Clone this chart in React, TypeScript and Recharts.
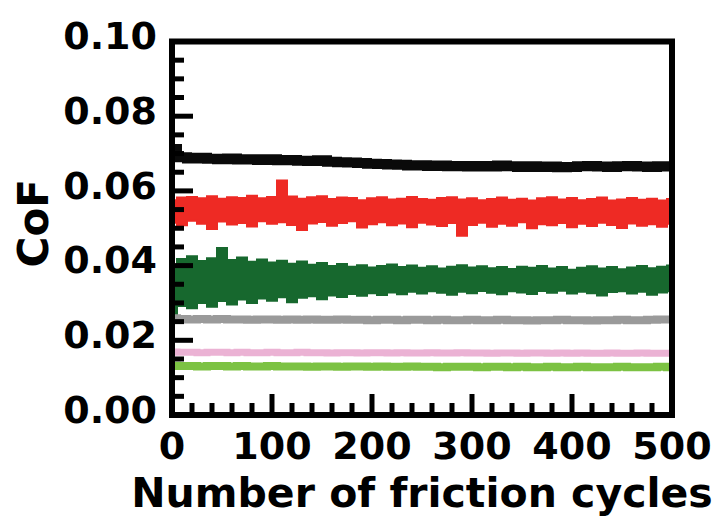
import { ComposedChart, Area, Line, XAxis, YAxis, ReferenceArea, Label } from 'recharts';

const cycles = [
  0, 10, 20, 30, 40, 50, 60, 70, 80, 90,
  100, 110, 120, 130, 140, 150, 160, 170, 180, 190,
  200, 210, 220, 230, 240, 250, 260, 270, 280, 290,
  300, 310, 320, 330, 340, 350, 360, 370, 380, 390,
  400, 410, 420, 430, 440, 450, 460, 470, 480, 490,
  500,
];

const black = [
  0.0712, 0.0690, 0.0687, 0.0689, 0.0686, 0.0685, 0.0687, 0.0684, 0.0685, 0.0683,
  0.0685, 0.0682, 0.0683, 0.0681, 0.0680, 0.0682, 0.0678, 0.0677, 0.0676, 0.0675,
  0.0673, 0.0672, 0.0671, 0.0670, 0.0668, 0.0669, 0.0667, 0.0668, 0.0666, 0.0667,
  0.0665, 0.0667, 0.0665, 0.0668, 0.0666, 0.0664, 0.0666, 0.0664, 0.0665, 0.0663,
  0.0664, 0.0666, 0.0667, 0.0665, 0.0664, 0.0666, 0.0667, 0.0665, 0.0664, 0.0666,
  0.0665,
];

const redHigh = [
  0.0575, 0.0582, 0.0584, 0.0580, 0.0586, 0.0579, 0.0583, 0.0581, 0.0587, 0.0580,
  0.0584, 0.0628, 0.0585, 0.0579, 0.0583, 0.0586, 0.0578, 0.0582, 0.0581, 0.0575,
  0.0580, 0.0583, 0.0577, 0.0579, 0.0584, 0.0578, 0.0576, 0.0581, 0.0583, 0.0577,
  0.0580, 0.0575, 0.0578, 0.0582, 0.0576, 0.0579, 0.0574, 0.0580, 0.0583, 0.0577,
  0.0581, 0.0575, 0.0578, 0.0582, 0.0574, 0.0577, 0.0581, 0.0576, 0.0579, 0.0574,
  0.0578,
];

const redLow = [
  0.0515, 0.0508, 0.0520, 0.0512, 0.0498, 0.0518, 0.0510, 0.0514, 0.0505, 0.0519,
  0.0512, 0.0516, 0.0509, 0.0495, 0.0513, 0.0517, 0.0507, 0.0514, 0.0519, 0.0502,
  0.0511, 0.0516, 0.0508, 0.0513, 0.0503, 0.0515, 0.0510, 0.0506, 0.0514, 0.0480,
  0.0509, 0.0515, 0.0504, 0.0512, 0.0507, 0.0516, 0.0500, 0.0511, 0.0508, 0.0514,
  0.0503, 0.0512, 0.0506, 0.0515, 0.0509, 0.0501, 0.0513, 0.0507, 0.0511, 0.0504,
  0.0512,
];

const greenHigh = [
  0.0400, 0.0418, 0.0425, 0.0412, 0.0420, 0.0447, 0.0415, 0.0422, 0.0410, 0.0416,
  0.0408, 0.0413, 0.0405, 0.0411, 0.0402, 0.0407, 0.0399, 0.0404, 0.0397, 0.0401,
  0.0395, 0.0399, 0.0403, 0.0396, 0.0400, 0.0394, 0.0398, 0.0392, 0.0397, 0.0401,
  0.0395, 0.0398, 0.0393, 0.0396, 0.0391, 0.0397, 0.0394, 0.0399, 0.0392, 0.0396,
  0.0389, 0.0394, 0.0398, 0.0392, 0.0396, 0.0390, 0.0395, 0.0399, 0.0393, 0.0397,
  0.0400,
];

const greenLow = [
  0.0270, 0.0292, 0.0286, 0.0300, 0.0290, 0.0305, 0.0296, 0.0309, 0.0300, 0.0312,
  0.0306, 0.0315, 0.0302, 0.0314, 0.0318, 0.0310, 0.0320, 0.0316, 0.0324, 0.0319,
  0.0326, 0.0321, 0.0328, 0.0323, 0.0330, 0.0325, 0.0331, 0.0327, 0.0322, 0.0330,
  0.0326, 0.0332, 0.0327, 0.0323, 0.0331, 0.0328, 0.0324, 0.0332, 0.0327, 0.0333,
  0.0325, 0.0330, 0.0326, 0.0320, 0.0329, 0.0331, 0.0325, 0.0330, 0.0322, 0.0328,
  0.0331,
];

const gray = [
  0.0259, 0.0257, 0.0256, 0.0257, 0.0256, 0.0257, 0.0256, 0.0256, 0.0255, 0.0256,
  0.0256, 0.0255, 0.0256, 0.0255, 0.0256, 0.0255, 0.0255, 0.0256, 0.0255, 0.0255,
  0.0254, 0.0255, 0.0255, 0.0254, 0.0255, 0.0255, 0.0254, 0.0255, 0.0254, 0.0254,
  0.0255, 0.0254, 0.0254, 0.0255, 0.0254, 0.0254, 0.0253, 0.0254, 0.0254, 0.0255,
  0.0254, 0.0254, 0.0253, 0.0254, 0.0254, 0.0255, 0.0254, 0.0254, 0.0255, 0.0256,
  0.0256,
];

const pink = [
  0.0169, 0.0168, 0.0168, 0.0167, 0.0168, 0.0168, 0.0167, 0.0168, 0.0167, 0.0167,
  0.0168, 0.0167, 0.0167, 0.0168, 0.0167, 0.0167, 0.0166, 0.0167, 0.0167, 0.0166,
  0.0167, 0.0167, 0.0166, 0.0167, 0.0166, 0.0166, 0.0167, 0.0166, 0.0166, 0.0167,
  0.0166, 0.0166, 0.0165, 0.0166, 0.0166, 0.0165, 0.0166, 0.0166, 0.0165, 0.0166,
  0.0165, 0.0166, 0.0165, 0.0165, 0.0166, 0.0165, 0.0165, 0.0166, 0.0165, 0.0165,
  0.0165,
];

const lime = [
  0.0132, 0.0131, 0.0131, 0.0130, 0.0131, 0.0131, 0.0130, 0.0131, 0.0130, 0.0130,
  0.0131, 0.0130, 0.0130, 0.0130, 0.0129, 0.0130, 0.0130, 0.0129, 0.0130, 0.0130,
  0.0129, 0.0130, 0.0129, 0.0129, 0.0130, 0.0129, 0.0129, 0.0128, 0.0129, 0.0129,
  0.0129, 0.0128, 0.0129, 0.0129, 0.0128, 0.0129, 0.0128, 0.0128, 0.0129, 0.0128,
  0.0128, 0.0129, 0.0128, 0.0128, 0.0128, 0.0129, 0.0128, 0.0128, 0.0128, 0.0129,
  0.0128,
];

const xTicks = [
  0, 20, 40, 60, 80, 100, 120, 140, 160, 180, 200, 220, 240,
  260, 280, 300, 320, 340, 360, 380, 400, 420, 440, 460, 480, 500,
];
const xLabels = [0, 100, 200, 300, 400, 500];

const yTicks = [
  0, 0.005, 0.01, 0.015, 0.02, 0.025, 0.03, 0.035, 0.04, 0.045, 0.05,
  0.055, 0.06, 0.065, 0.07, 0.075, 0.08, 0.085, 0.09, 0.095, 0.1,
];
const yLabels = [0, 0.02, 0.04, 0.06, 0.08, 0.1];

const data = cycles.map((c, i) => ({
  cycle: c,
  black: black[i],
  red: [redLow[i], redHigh[i]],
  green: [greenLow[i], greenHigh[i]],
  gray: gray[i],
  pink: pink[i],
  lime: lime[i],
}));

const W = 724;
const H = 518;
const MARGIN = { top: 41.5, right: 52, bottom: 0, left: 0 };
const FONT = '"DejaVu Sans", sans-serif';
const X_GAP = 17;
const Y_GAP = 15;
const MAJOR = 21;
const MINOR = 12;

const isIn = (list: number[], v: number) => list.some((l) => Math.abs(l - v) < 1e-9);

function YTick(props: any) {
  const { x, y, payload } = props;
  const v = payload.value;
  const ax = x + Y_GAP;
  const major = isIn(yLabels, v);
  return (
    <g>
      <line x1={ax} y1={y} x2={ax + (major ? MAJOR : MINOR)} y2={y} stroke="#000" strokeWidth={5} />
      {major && (
        <text x={x} y={y - 6} dy="0.36em" textAnchor="end" fontFamily={FONT} fontWeight="bold" fontSize={38} fill="#000">
          {v.toFixed(2)}
        </text>
      )}
    </g>
  );
}

function XTick(props: any) {
  const { x, y, payload } = props;
  const v = payload.value;
  const ay = y - X_GAP;
  const major = isIn(xLabels, v);
  return (
    <g>
      <line x1={x} y1={ay} x2={x} y2={ay - (major ? MAJOR : MINOR)} stroke="#000" strokeWidth={5} />
      {major && (
        <text x={x} y={y} dy="0.71em" textAnchor="middle" fontFamily={FONT} fontWeight="bold" fontSize={38} fill="#000">
          {v}
        </text>
      )}
    </g>
  );
}

// series chart underneath, axes + frame chart on top so the inward ticks sit over the data
export default function App() {
  return (
    <div style={{ position: 'absolute', left: 0, top: 0, width: W, height: H, background: '#fff' }}>
      <div style={{ position: 'absolute', left: 0, top: 0 }}>
        <ComposedChart width={W} height={H} data={data} margin={MARGIN}>
          <XAxis type="number" dataKey="cycle" domain={[0, 500]} allowDataOverflow ticks={xTicks} tick={false} axisLine={false} tickLine={false} height={103} />
          <YAxis type="number" domain={[0, 0.1]} allowDataOverflow ticks={yTicks} tick={false} axisLine={false} tickLine={false} width={172} />
          <Area dataKey="red" type="step" fill="#ee2a24" fillOpacity={1} stroke="#ee2a24" strokeWidth={2} isAnimationActive={false} />
          <Area dataKey="green" type="step" fill="#17682e" fillOpacity={1} stroke="#17682e" strokeWidth={2} isAnimationActive={false} />
          <Line dataKey="black" type="step" stroke="#0a0a0a" strokeWidth={10} dot={false} isAnimationActive={false} />
          <Line dataKey="gray" type="step" stroke="#9a9a9a" strokeWidth={8} dot={false} isAnimationActive={false} />
          <Line dataKey="pink" type="step" stroke="#ebb2d4" strokeWidth={7} dot={false} isAnimationActive={false} />
          <Line dataKey="lime" type="step" stroke="#7cc243" strokeWidth={8} dot={false} isAnimationActive={false} />
        </ComposedChart>
      </div>
      <div style={{ position: 'absolute', left: 0, top: 0 }}>
        <ComposedChart width={W} height={H} data={data} margin={MARGIN}>
          <XAxis
            type="number"
            dataKey="cycle"
            domain={[0, 500]}
            allowDataOverflow
            ticks={xTicks}
            interval={0}
            tickSize={0}
            tickMargin={X_GAP}
            axisLine={false}
            tickLine={false}
            height={103}
            tick={(p: any) => <XTick {...p} />}
          >
            <Label
              content={(p: any) => {
                const vb = p.viewBox;
                return (
                  <text x={vb.x + vb.width / 2} y={vb.y + vb.height - 11} textAnchor="middle" fontFamily={FONT} fontWeight="bold" fontSize={41} fill="#000">
                    Number of friction cycles
                  </text>
                );
              }}
            />
          </XAxis>
          <YAxis
            type="number"
            domain={[0, 0.1]}
            allowDataOverflow
            ticks={yTicks}
            interval={0}
            tickSize={0}
            tickMargin={Y_GAP}
            axisLine={false}
            tickLine={false}
            width={172}
            tick={(p: any) => <YTick {...p} />}
          >
            <Label
              content={(p: any) => {
                const vb = p.viewBox;
                const cx = vb.x + 33;
                const cy = vb.y + vb.height / 2 - 5;
                return (
                  <text x={cx} y={cy} dy="0.36em" textAnchor="middle" transform={`rotate(-90, ${cx}, ${cy})`} fontFamily={FONT} fontWeight="bold" fontSize={42} fill="#000">
                    CoF
                  </text>
                );
              }}
            />
          </YAxis>
          <Line dataKey="lime" stroke="none" dot={false} activeDot={false} legendType="none" isAnimationActive={false} />
          <ReferenceArea x1={0} x2={500} y1={0} y2={0.1} fill="none" stroke="#000" strokeWidth={6} />
        </ComposedChart>
      </div>
    </div>
  );
}
